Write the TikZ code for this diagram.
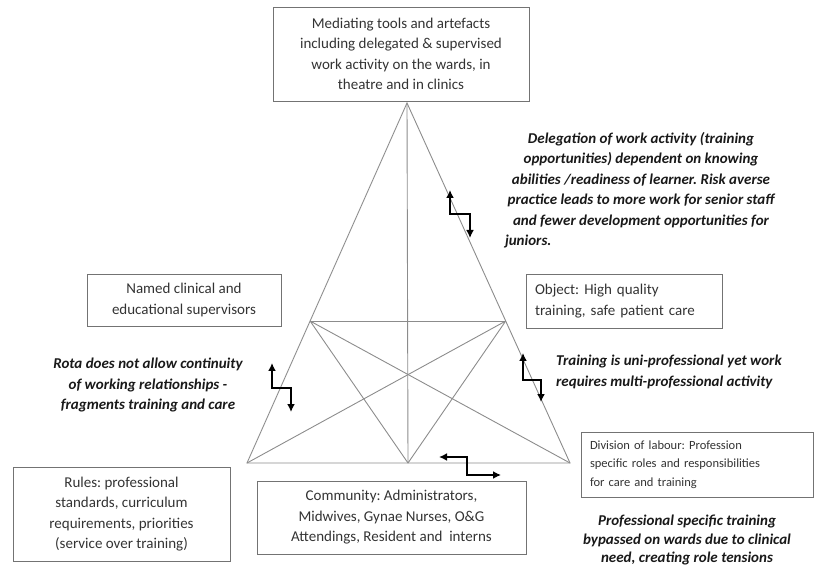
\documentclass[tikz,border=0pt]{standalone}
\usepackage{fontspec}
\setmainfont{Carlito}
\usetikzlibrary{arrows.meta,calc}
\frenchspacing

\begin{document}
\begin{tikzpicture}[x=1pt,y=-1pt,
 box/.style={draw=black!55,line width=.8pt,text=black!80,inner sep=0pt,font=\fontsize{15}{20.5}\selectfont},
 note/.style={font=\fontsize{15}{20.5}\selectfont\bfseries\itshape,text=black!90,align=center,inner sep=0pt},
 edge/.style={draw=black!45,line width=.9pt},
 zig/.style={line width=2.8pt,{Latex[length=8pt,width=8pt]}-{Latex[length=8pt,width=8pt]}}]
 \useasboundingbox (0,0) rectangle (825,577);
 % triangle
 \coordinate (A) at (407,103);
 \coordinate (BL) at (247,463);
 \coordinate (BR) at (570,463);
 \coordinate (BM) at (408,463);
 \coordinate (ML) at ($(A)!.6056!(BL)$);
 \coordinate (MR) at ($(A)!.6056!(BR)$);
 \draw[edge] (A)--(BL)--(BR)--cycle;
 \draw[edge] (A)--(BM);
 \draw[edge] (ML)--(MR);
 \draw[edge] (ML)--(BM) (ML)--(BR);
 \draw[edge] (MR)--(BM) (MR)--(BL);
 % boxes
 \node[box,minimum width=256pt,minimum height=94pt,align=center] (tools) at (401,54)
  {Mediating tools and artefacts\\including delegated \& supervised\\work activity on the wards, in\\theatre and in clinics};
 \node[box,minimum width=194pt,minimum height=52pt,align=center] (subject) at (184,300)
  {Named clinical and\\educational supervisors};
 \node[box,minimum width=196pt,minimum height=54pt,text width=178pt,align=left] (object) at (624,301)
  {Object: High quality\\training, safe patient care};
 \node[box,minimum width=217pt,minimum height=94pt,align=center] (rules) at (121.5,514)
  {Rules: professional\\standards, curriculum\\requirements, priorities\\(service over training)};
 \node[box,minimum width=269pt,minimum height=73pt,align=center] (community) at (391.5,517.5)
  {Community: Administrators,\\Midwives, Gynae Nurses, O\&G\\Attendings, Resident and\ \ interns};
 \node[box,minimum width=232pt,minimum height=65pt,text width=214pt,align=left,
  font=\fontsize{12.5}{18.5}\selectfont] (labour) at (697,464.5)
  {Division of labour: Profession\\specific roles and responsibilities\\for care and training};
 % tensions
 \node[note] (delegation) at (641,190)
  {Delegation of work activity (training\\opportunities) dependent on knowing\\abilities /readiness of learner. Risk averse\\practice leads to more work for senior staff\\and fewer development opportunities for\\\makebox[300pt][l]{\hspace{14pt}juniors.}};
 \node[note] (rota) at (148,385)
  {Rota does not allow continuity\\of working relationships -\\fragments training and care};
 \node[note,align=left,anchor=west] (uniprof) at (556,372)
  {Training is uni-professional yet work\\requires multi-professional activity};
 \node[note,font=\fontsize{15}{18.5}\selectfont\bfseries\itshape] (bypass) at (687,540)
  {Professional specific training\\bypassed on wards due to clinical\\need, creating role tensions};
 % double arrows
 \coordinate (delT) at (450,190);
 \coordinate (delB) at (470,238);
 \coordinate (rotaT) at (272,363);
 \coordinate (rotaB) at (291,412);
 \coordinate (uniT) at (523,353);
 \coordinate (uniB) at (541,402);
 \coordinate (divL) at (439,457);
 \coordinate (divR) at (501,475);
 \draw[zig] (delT) -- ++(0,24) -| (delB);
 \draw[zig] (rotaT) -- ++(0,25) -| (rotaB);
 \draw[zig] (uniT) -- ++(0,27) -| (uniB);
 \draw[zig] (divL) -- ++(28,0) |- (divR);
\end{tikzpicture}
\end{document}
